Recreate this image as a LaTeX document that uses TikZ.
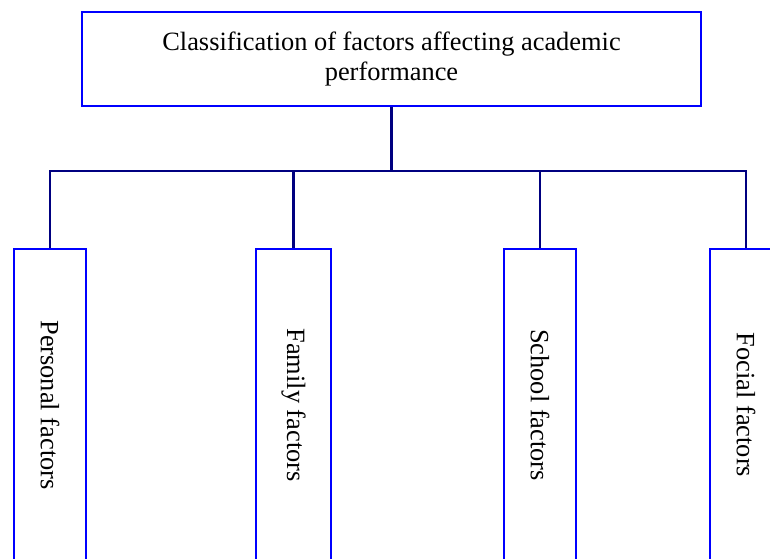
\documentclass[tikz,border=0pt]{standalone}
\usepackage{fontspec}
\setmainfont{Liberation Serif}
\usepackage{graphicx}

\definecolor{boxblue}{RGB}{0,0,255}
\definecolor{linknavy}{RGB}{0,0,128}

\begin{document}
\begin{tikzpicture}[x=1pt,y=-1pt,
    catbox/.style={draw=boxblue,line width=2.8pt,fill=white,inner sep=0pt,
        font=\fontsize{26.4}{30}\selectfont},
    factor/.style={catbox,minimum width=72pt,minimum height=312pt},
    link/.style={draw=linknavy,line width=2.4pt,line join=miter}]
    \useasboundingbox (0,0) rectangle (770,558);

    % title box
    \node[catbox,minimum width=619pt,minimum height=94pt,align=center] (title) at (391.5,59)
        {Classification of factors affecting academic\\performance};

    % factor boxes
    \node[factor] (personal) at (50,405) {\rotatebox{-90}{Personal factors}};
    \node[factor,minimum width=75pt] (family) at (293.5,405) {\rotatebox{-90}{Family factors}};
    \node[factor] (school) at (540,405) {\rotatebox{-90}{School factors}};
    \node[factor] (focial) at (746,405) {\rotatebox{-90}{Focial factors}};

    % bus line
    \coordinate (bus) at (391.5,171);
    \draw[link] (title.south) -- (title.south |- bus);
    \draw[link] (personal.north) -- (personal.north |- bus) -- (focial.north |- bus) -- (focial.north);
    \foreach \f in {family,school}
        \draw[link] (\f.north |- bus) -- (\f.north);
\end{tikzpicture}
\end{document}
